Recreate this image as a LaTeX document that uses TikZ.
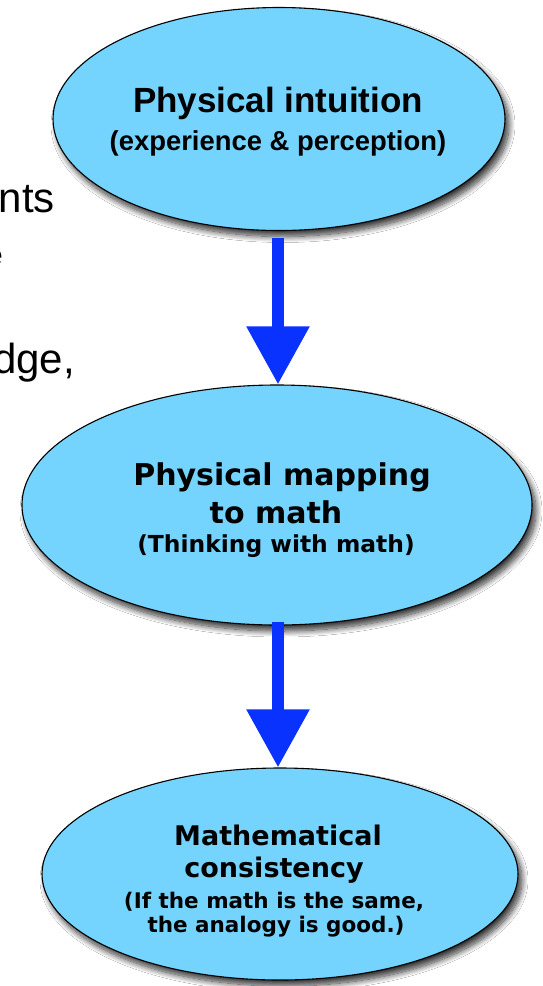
\documentclass[tikz,border=0pt]{standalone}
\usepackage{fontspec}
\setmainfont{Liberation Sans}
\newfontfamily\verd{DejaVu Sans}
\usetikzlibrary{shapes.geometric,arrows.meta,shadows.blur}
\definecolor{bubble}{RGB}{116,212,254}
\definecolor{arrowblue}{RGB}{10,50,255}
\begin{document}
\begin{tikzpicture}[x=1pt,y=-1pt,
  bubble/.style={ellipse, draw=black, line width=1.1pt, fill=bubble, inner sep=0pt,
    blur shadow={shadow xshift=4pt, shadow yshift=-6pt, shadow blur radius=6pt, shadow blur steps=12, shadow opacity=80}},
  txt/.style={anchor=base, inner sep=0pt, text=black},
  bigarrow/.style={draw=arrowblue, fill=arrowblue, line width=12pt,
    -{Triangle[width=60pt,length=58pt]}},
  frag/.style={anchor=base east, inner sep=0pt, font=\fontsize{42}{44}\selectfont}
]
\useasboundingbox (0,0) rectangle (543,986);
\fill[white] (0,0) rectangle (543,986);

% left fragments of background text
\node[frag] (f1) at (55,212) {nts};
\node[frag, font=\fontsize{30}{32}\selectfont] (f2) at (3,265) {e};
\node[frag] (f3) at (75,373) {dge,};

% ellipses
\node[bubble, minimum width=452pt, minimum height=223pt] (e1) at (279,119) {};
\node[bubble, minimum width=510pt, minimum height=240pt] (e2) at (277,505) {};
\node[bubble, minimum width=476pt, minimum height=212pt] (e3) at (280,874) {};

% texts
\node[txt, font=\bfseries\fontsize{35}{38}\selectfont] (t11) at (278,112) {Physical intuition};
\node[txt, font=\bfseries\fontsize{27.4}{30}\selectfont] (t12) at (278,150) {(experience \& perception)};

\node[txt, font=\verd\bfseries\fontsize{30}{32}\selectfont] (t21) at (282,485) {Physical mapping};
\node[txt, font=\verd\bfseries\fontsize{30}{32}\selectfont] (t22) at (276,523) {to math};
\node[txt, font=\verd\bfseries\fontsize{23.4}{26}\selectfont] (t23) at (276,552) {(Thinking with math)};

\node[txt, font=\verd\bfseries\fontsize{27}{30}\selectfont] (t31) at (278,845) {Mathematical};
\node[txt, font=\verd\bfseries\fontsize{27}{30}\selectfont] (t32) at (274,877) {consistency};
\node[txt, font=\verd\bfseries\fontsize{21.5}{24}\selectfont] (t33) at (274,908) {(If the math is the same,};
\node[txt, font=\verd\bfseries\fontsize{21.5}{24}\selectfont] (t34) at (276,932) {the analogy is good.)};

% arrows
\draw[bigarrow] ([xshift=-1pt,yshift=-7pt]e1.south) -- ([xshift=1pt]e2.north);
\draw[bigarrow] ([xshift=1pt,yshift=4pt]e2.south) -- ([xshift=-2pt]e3.north);
\end{tikzpicture}
\end{document}
